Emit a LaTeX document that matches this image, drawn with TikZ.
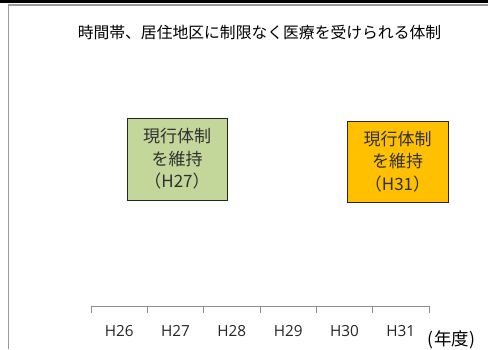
\documentclass[tikz,border=0pt]{standalone}
\usepackage{fontspec}
\setmainfont{Noto Sans CJK JP}
\newfontfamily\latinlbl{Open Sans}
\definecolor{boxgreen}{HTML}{C4D79B}
\definecolor{boxorange}{HTML}{FFC000}
\definecolor{framegray}{HTML}{9A9A9A}
\definecolor{axisgray}{HTML}{8C8C8C}
\definecolor{boxtext}{HTML}{303030}
\begin{document}
\begin{tikzpicture}[x=1pt,y=-1pt,
  planbox/.style={draw=black!85, line width=0.9pt, minimum width=#1, align=center, text=boxtext,
    font=\fontsize{17}{22.5}\selectfont, inner sep=0pt},
  yearlbl/.style={font=\latinlbl\fontsize{15.3}{16}\selectfont, text=black!85, inner sep=0pt, anchor=base},
  axisline/.style={draw=axisgray, line width=0.9pt}
]
\useasboundingbox (0,0) rectangle (488,349);
% frame
\fill[black] (0,0) rectangle (488,3);
\draw[framegray, line width=1.6pt] (8.5,349) -- (8.5,4.8) -- (488,4.8);
% title
\node[font=\fontsize{15.8}{18}\selectfont, inner sep=0pt] (title) at (259.5,32) {時間帯、居住地区に制限なく医療を受けられる体制};
% boxes
\node[planbox=100pt, fill=boxgreen, minimum height=82pt] (g) at (177,159) {現行体制\\を維持\\（H27）};
\node[planbox=101pt, fill=boxorange, minimum height=81pt] (o) at (397.5,161.5) {現行体制\\を維持\\（H31）};
% axis
\foreach \i/\x in {0/91,1/147.3,2/203.7,3/260,4/316.3,5/372.7,6/429}{
  \coordinate (t\i) at (\x,306);
  \coordinate (b\i) at (\x,312.5);
}
\draw[axisline] (t0) -- (t6);
\foreach \i in {0,...,6}{ \draw[axisline] (t\i) -- (b\i); }
\foreach \lbl/\x in {H26/119.2,H27/175.5,H28/231.8,H29/288.2,H30/344.5,H31/400.8}{
  \node[yearlbl] (l\lbl) at (\x,336) {\lbl};
}
\node[font=\fontsize{17.5}{18}\selectfont, inner sep=0pt] (unit) at (451.5,340) {(\kern1pt 年度\kern1pt)};
\end{tikzpicture}
\end{document}
